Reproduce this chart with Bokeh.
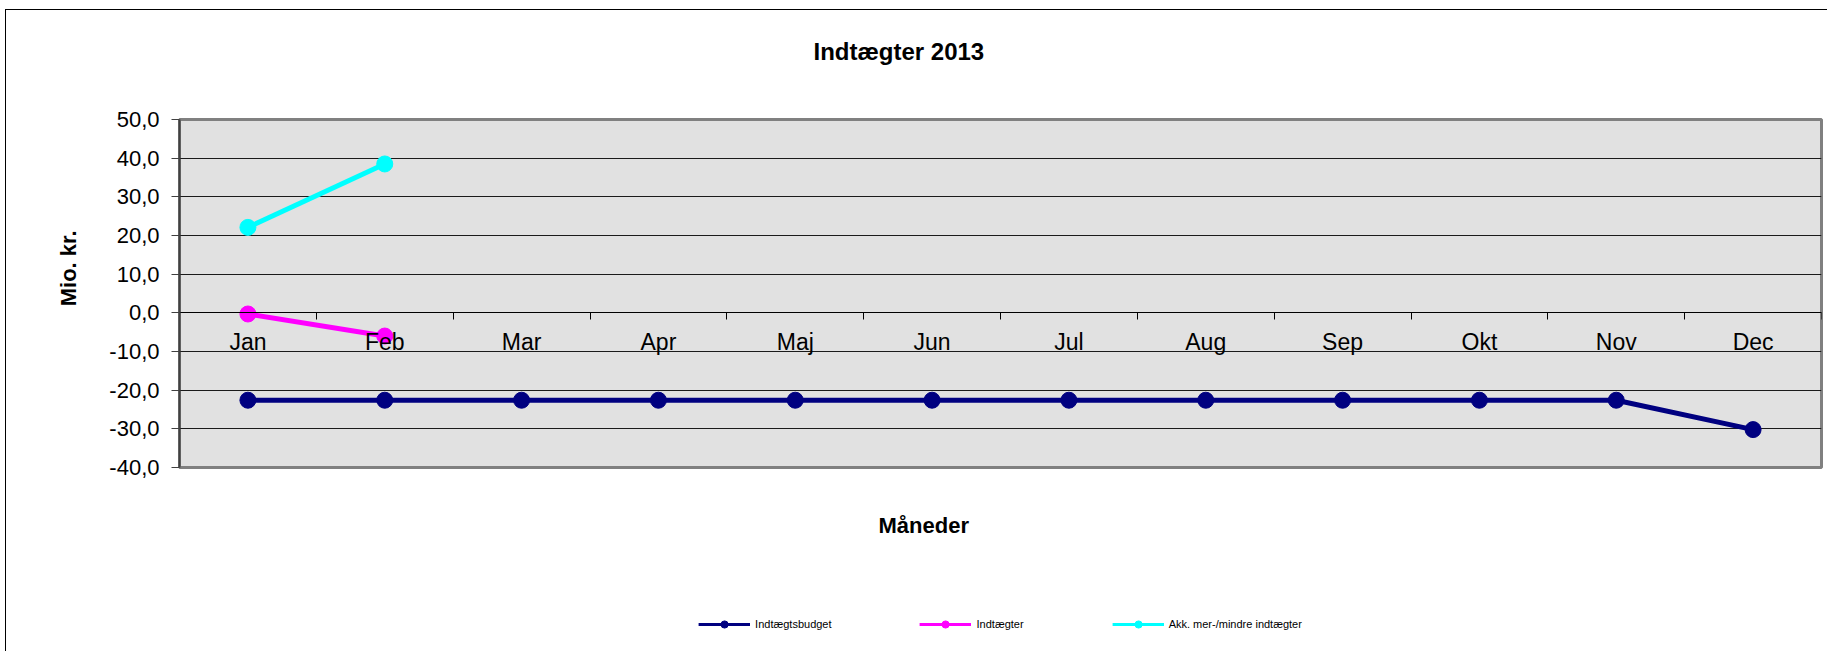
from bokeh.plotting import figure
from bokeh.models import Range1d, FixedTicker, Title, Legend, LegendItem
from bokeh.layouts import column
from bokeh.embed import file_html
from bokeh.resources import INLINE

# ---- data ----
months = ["Jan", "Feb", "Mar", "Apr", "Maj", "Jun", "Jul", "Aug", "Sep", "Okt", "Nov", "Dec"]
budget = [-22.6, -22.6, -22.6, -22.6, -22.6, -22.6, -22.6, -22.6, -22.6, -22.6, -22.6, -30.2]
indtaegter = [-0.3, -6.0]
akk = [22.1, 38.5]
y_ticks = [-40, -30, -20, -10, 0, 10, 20, 30, 40, 50]

title_text = "Indtægter 2013"
x_title = "Måneder"
y_title = "Mio. kr."
series_names = ["Indtægtsbudget", "Indtægter", "Akk. mer-/mindre indtægter"]
colors = ["#000080", "#FF00FF", "#00FFFF"]

FONT = "Liberation Sans"

# category centres on a numeric axis
xc = [i + 0.5 for i in range(len(months))]
xb = list(range(len(months) + 1))
series_values = [budget, indtaegter, akk]

p = figure(
    frame_width=1642, frame_height=348,
    min_border_left=173, min_border_right=6, min_border_top=108, min_border_bottom=130,
    x_range=Range1d(0, len(months)), y_range=Range1d(-40, 50),
    output_backend="svg", toolbar_location=None, tools="", title_location=None,
)

p.background_fill_color = "#E1E1E1"
p.border_fill_color = "#FFFFFF"
p.outline_line_color = "#808080"
p.outline_line_width = 3

# y axis
p.yaxis.ticker = FixedTicker(ticks=y_ticks)
p.yaxis.major_label_overrides = {v: f"{v:.1f}".replace(".", ",") for v in y_ticks}
p.yaxis.major_label_text_font = FONT
p.yaxis.major_label_text_font_size = "22px"
p.yaxis.major_label_text_color = "#000000"
p.yaxis.axis_line_color = "#404040"
p.yaxis.axis_line_width = 2
p.yaxis.major_tick_out = 8
p.yaxis.major_tick_in = 0
p.yaxis.major_tick_line_color = "#404040"
p.yaxis.minor_tick_line_color = None
p.yaxis.major_label_standoff = 12

p.ygrid.grid_line_color = "#1A1A1A"
p.ygrid.grid_line_width = 1
p.xgrid.grid_line_color = None

# x axis crossing at 0
xa = p.xaxis[0]
xa.fixed_location = 0
xa.ticker = FixedTicker(ticks=xc, minor_ticks=xb)
xa.major_label_overrides = {x: m for x, m in zip(xc, months)}
xa.major_label_text_font = FONT
xa.major_label_text_font_size = "23px"
xa.major_label_text_color = "#000000"
xa.major_tick_line_color = None
xa.major_tick_out = 0
xa.major_tick_in = 0
xa.minor_tick_line_color = "#000000"
xa.minor_tick_out = 7
xa.minor_tick_in = 0
xa.axis_line_color = "#000000"
xa.axis_line_width = 1
xa.major_label_standoff = 9

# series
for vals, col in zip(series_values, colors):
    p.line(xc[:len(vals)], vals, line_color=col, line_width=5)
    p.scatter(xc[:len(vals)], vals, size=16, fill_color=col, line_color=col)

# ---- texts in the border panels ----
spacer_top = Title(text=" ", text_font=FONT, text_font_size="10px", standoff=17)
p.add_layout(spacer_top, "above")
main_title = Title(text=title_text, align="left", offset=634, standoff=50,
                   text_font=FONT, text_font_size="24px", text_font_style="bold",
                   text_color="#000000")
p.add_layout(main_title, "above")

yt = Title(text=y_title, align="right", offset=111, standoff=52,
           text_font=FONT, text_font_size="22px", text_font_style="bold", text_color="#000000")
p.add_layout(yt, "left")

xt = Title(text=x_title, align="left", offset=699, standoff=87,
           text_font=FONT, text_font_size="22px", text_font_style="bold", text_color="#000000")
p.add_layout(xt, "below")

# ---- legend strip (separate figure under the chart, same horizontal frame) ----
# its ranges lie away from the data, so the proxy renderers draw nothing in the strip
lg = figure(
    frame_width=1642, frame_height=54,
    min_border_left=173, min_border_right=6, min_border_top=0, min_border_bottom=0,
    x_range=Range1d(-20, -19), y_range=Range1d(-200, -199),
    x_axis_location=None, y_axis_location=None,
    output_backend="svg", toolbar_location=None, tools="", title_location=None,
)
lg.grid.visible = False
lg.outline_line_color = None
lg.background_fill_color = "#FFFFFF"
lg.border_fill_color = "#FFFFFF"

items = []
for name, vals, col in zip(series_names, series_values, colors):
    rl = lg.line(xc[:len(vals)], vals, line_color=col, line_width=3)
    rs = lg.scatter(xc[:len(vals)], vals, size=7, fill_color=col, line_color=col)
    items.append(LegendItem(label=name, renderers=[rl, rs]))

legend = Legend(
    items=items, location="center", orientation="horizontal",
    label_text_font=FONT, label_text_font_size="11px", label_text_color="#000000",
    glyph_width=52, glyph_height=18, label_height=20, label_standoff=5, spacing=88,
    padding=0, margin=0, border_line_color=None, background_fill_alpha=0,
)
lg.add_layout(legend, "center")

layout = column(p, lg, spacing=0)
layout.styles = {"margin-left": "5px", "margin-top": "9px",
                 "border-left": "1px solid #000000", "border-top": "1px solid #000000"}

open("out.html", "w").write(file_html(layout, INLINE))
